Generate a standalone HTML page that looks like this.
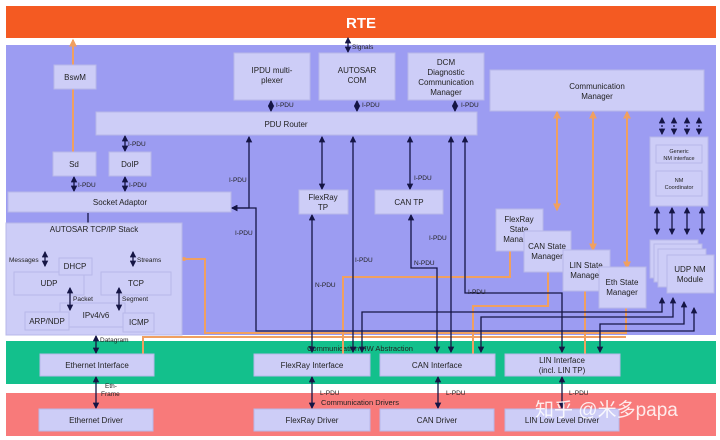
<!DOCTYPE html>
<html><head><meta charset="utf-8"><style>
body{margin:0;background:#fff;}
svg{display:block;font-family:"Liberation Sans",Arial,sans-serif;}
.b{fill:#cdcdf7;stroke:#b8b8e8;stroke-width:1;}
.t{font-size:8px;fill:#222;text-anchor:middle;}
.s{font-size:6.5px;fill:#222;}
.k{stroke:#151545;stroke-width:1.3;fill:none;}
.o{stroke:#f0a060;stroke-width:2;fill:none;}
</style></head><body>
<svg width="720" height="440" viewBox="0 0 720 440" xmlns="http://www.w3.org/2000/svg">
<defs>
<marker id="a" viewBox="0 0 6 6" refX="5" refY="3" markerWidth="5" markerHeight="5" orient="auto-start-reverse"><path d="M0,0L6,3L0,6z" fill="#151545"/></marker>
<marker id="ao" viewBox="0 0 6 6" refX="5" refY="3" markerWidth="4" markerHeight="4" orient="auto-start-reverse"><path d="M0,0L6,3L0,6z" fill="#f0a060"/></marker>
</defs>
<rect x="6" y="6" width="710" height="32" fill="#f45a22"/>
<text x="361" y="28" font-size="15" font-weight="bold" fill="#fff" text-anchor="middle">RTE</text>
<rect x="6" y="45" width="710" height="290" fill="#9c9cf2"/>
<rect x="6" y="341" width="710" height="43" fill="#13c08c"/>
<rect x="6" y="393" width="710" height="43" fill="#f87a7a"/>
<text x="360" y="351" font-size="7.5" fill="#222" text-anchor="middle">Communication HW Abstraction</text>
<text x="360" y="405" font-size="7.5" fill="#222" text-anchor="middle">Communication Drivers</text>

<!-- orange lines -->
<path class="o" d="M73,152V40" marker-end="url(#ao)"/>
<path class="o" d="M184,259H205V333H626V308"/>
<circle cx="184" cy="259" r="2" fill="#f0a060"/>
<path class="o" d="M143,354V337H626"/>
<path class="o" d="M510,251V277H343V354"/>
<path class="o" d="M548,272V306H473V354"/>
<path class="o" d="M585,291V354"/>
<path class="o" d="M557,112V210" marker-start="url(#ao)" marker-end="url(#ao)"/>
<path class="o" d="M593,112V250" marker-start="url(#ao)" marker-end="url(#ao)"/>
<path class="o" d="M627,112V268" marker-start="url(#ao)" marker-end="url(#ao)"/>

<!-- black lines -->
<path class="k" d="M348,38V52" marker-start="url(#a)" marker-end="url(#a)"/>
<text class="s" x="352" y="49">Signals</text>
<path class="k" d="M271,101V111" marker-start="url(#a)" marker-end="url(#a)"/><text class="s" x="276" y="107">I-PDU</text>
<path class="k" d="M357,101V111" marker-start="url(#a)" marker-end="url(#a)"/><text class="s" x="362" y="107">I-PDU</text>
<path class="k" d="M455,101V111" marker-start="url(#a)" marker-end="url(#a)"/><text class="s" x="461" y="107">I-PDU</text>
<path class="k" d="M125,136V151" marker-start="url(#a)" marker-end="url(#a)"/><text class="s" x="128" y="146">I-PDU</text>
<path class="k" d="M74,177V191" marker-start="url(#a)" marker-end="url(#a)"/><text class="s" x="78" y="187">I-PDU</text>
<path class="k" d="M125,177V191" marker-start="url(#a)" marker-end="url(#a)"/><text class="s" x="129" y="187">I-PDU</text>
<path class="k" d="M88,213V224"/>
<path class="k" d="M249,137V208H232" marker-start="url(#a)" marker-end="url(#a)"/><text class="s" x="229" y="182">I-PDU</text>
<path class="k" d="M232,208H256V331H694V308" marker-start="url(#a)" marker-end="url(#a)"/><text class="s" x="235" y="235">I-PDU</text>
<path class="k" d="M322,137V189" marker-start="url(#a)" marker-end="url(#a)"/>
<path class="k" d="M312,215V352" marker-start="url(#a)" marker-end="url(#a)"/><text class="s" x="315" y="287">N-PDU</text>
<path class="k" d="M353,137V352" marker-start="url(#a)" marker-end="url(#a)"/><text class="s" x="355" y="262">I-PDU</text>
<path class="k" d="M410,137V189" marker-start="url(#a)" marker-end="url(#a)"/><text class="s" x="414" y="180">I-PDU</text>
<path class="k" d="M411,215V268H437V352" marker-start="url(#a)" marker-end="url(#a)"/><text class="s" x="414" y="265">N-PDU</text>
<path class="k" d="M451,137V352" marker-start="url(#a)" marker-end="url(#a)"/><text class="s" x="429" y="240">I-PDU</text>
<path class="k" d="M465,137V293H562V352" marker-start="url(#a)" marker-end="url(#a)"/><text class="s" x="468" y="294">I-PDU</text>
<path class="k" d="M362,352V312H662V298" marker-start="url(#a)" marker-end="url(#a)"/>
<path class="k" d="M481,352V317H673V298" marker-start="url(#a)" marker-end="url(#a)"/>
<path class="k" d="M600,352V324H684V302" marker-start="url(#a)" marker-end="url(#a)"/>
<g class="k" stroke-dasharray="2,1.5">
<path d="M662,118V134" marker-start="url(#a)" marker-end="url(#a)"/><path d="M674,118V134" marker-start="url(#a)" marker-end="url(#a)"/>
<path d="M687,118V134" marker-start="url(#a)" marker-end="url(#a)"/><path d="M699,118V134" marker-start="url(#a)" marker-end="url(#a)"/>
</g>
<path class="k" d="M657,208V234" marker-start="url(#a)" marker-end="url(#a)"/><path class="k" d="M672,208V234" marker-start="url(#a)" marker-end="url(#a)"/>
<path class="k" d="M687,208V234" marker-start="url(#a)" marker-end="url(#a)"/><path class="k" d="M702,208V234" marker-start="url(#a)" marker-end="url(#a)"/>
<path class="k" d="M96,336V353" marker-start="url(#a)" marker-end="url(#a)"/><text class="s" x="100" y="342">Datagram</text>
<path class="k" d="M96,377V408" marker-start="url(#a)" marker-end="url(#a)"/><text class="s" x="105" y="388">Eth-</text><text class="s" x="101" y="396">Frame</text>
<path class="k" d="M312,377V408" marker-start="url(#a)" marker-end="url(#a)"/><text class="s" x="320" y="395">L-PDU</text>
<path class="k" d="M438,377V408" marker-start="url(#a)" marker-end="url(#a)"/><text class="s" x="446" y="395">L-PDU</text>
<path class="k" d="M562,377V408" marker-start="url(#a)" marker-end="url(#a)"/><text class="s" x="569" y="395">L-PDU</text>

<!-- boxes -->
<rect class="b" x="54" y="65" width="42" height="24"/><text class="t" x="75" y="80">BswM</text>
<rect class="b" x="234" y="53" width="76" height="47"/><text class="t" x="272" y="73">IPDU multi-</text><text class="t" x="272" y="83">plexer</text>
<rect class="b" x="319" y="53" width="76" height="47"/><text class="t" x="357" y="73">AUTOSAR</text><text class="t" x="357" y="83">COM</text>
<rect class="b" x="408" y="53" width="76" height="47"/><text class="t" x="446" y="65">DCM</text><text class="t" x="446" y="75">Diagnostic</text><text class="t" x="446" y="85">Communication</text><text class="t" x="446" y="95">Manager</text>
<rect class="b" x="490" y="70" width="214" height="41"/><text class="t" x="597" y="89">Communication</text><text class="t" x="597" y="99">Manager</text>
<rect class="b" x="96" y="112" width="381" height="23"/><text class="t" x="286" y="127">PDU Router</text>
<rect class="b" x="53" y="152" width="43" height="24"/><text class="t" x="74" y="167">Sd</text>
<rect class="b" x="109" y="152" width="42" height="24"/><text class="t" x="130" y="167">DoIP</text>
<rect class="b" x="8" y="192" width="223" height="20"/><text class="t" x="120" y="205">Socket Adaptor</text>
<rect class="b" x="299" y="190" width="49" height="24"/><text class="t" x="323" y="200">FlexRay</text><text class="t" x="323" y="210">TP</text>
<rect class="b" x="375" y="190" width="68" height="24"/><text class="t" x="409" y="205">CAN TP</text>
<rect class="b" x="650" y="137" width="58" height="69"/>
<rect class="b" x="656" y="145" width="46" height="18"/><text class="t" x="679" y="153" style="font-size:5.5px">Generic</text><text class="t" x="679" y="160" style="font-size:5.5px">NM interface</text>
<rect class="b" x="656" y="171" width="46" height="25"/><text class="t" x="679" y="182" style="font-size:5.5px">NM</text><text class="t" x="679" y="189" style="font-size:5.5px">Coordinator</text>
<rect class="b" x="6" y="223" width="176" height="112"/><text class="t" x="94" y="232">AUTOSAR TCP/IP Stack</text>
<rect class="b" x="14" y="272" width="70" height="23"/><text class="t" x="49" y="286">UDP</text>
<rect class="b" x="59" y="258" width="33" height="17"/><text class="t" x="75" y="269">DHCP</text>
<rect class="b" x="101" y="272" width="70" height="23"/><text class="t" x="136" y="286">TCP</text>
<rect class="b" x="60" y="303" width="65" height="24"/><text class="t" x="96" y="318">IPv4/v6</text>
<rect class="b" x="25" y="312" width="44" height="18"/><text class="t" x="47" y="324">ARP/NDP</text>
<rect class="b" x="123" y="313" width="31" height="19"/><text class="t" x="139" y="325">ICMP</text>
<text class="s" x="9" y="262">Messages</text><path class="k" d="M45,252V266" marker-start="url(#a)" marker-end="url(#a)"/>
<path class="k" d="M133,252V266" marker-start="url(#a)" marker-end="url(#a)"/><text class="s" x="137" y="262">Streams</text>
<path class="k" d="M70,288V310" marker-start="url(#a)" marker-end="url(#a)"/><text class="s" x="73" y="301" fill="#666">Packet</text>
<path class="k" d="M119,288V310" marker-start="url(#a)" marker-end="url(#a)"/><text class="s" x="122" y="301" fill="#666">Segment</text>
<rect class="b" x="496" y="209" width="47" height="42"/><text class="t" x="519" y="222">FlexRay</text><text class="t" x="519" y="232">State</text><text class="t" x="519" y="242">Manager</text>
<rect class="b" x="524" y="231" width="47" height="41"/><text class="t" x="547" y="249">CAN State</text><text class="t" x="547" y="259">Manager</text>
<rect class="b" x="563" y="250" width="47" height="41"/><text class="t" x="586" y="268">LIN State</text><text class="t" x="586" y="278">Manager</text>
<rect class="b" x="599" y="267" width="47" height="41"/><text class="t" x="622" y="285">Eth State</text><text class="t" x="622" y="295">Manager</text>
<rect class="b" x="650" y="240" width="48" height="38"/>
<rect class="b" x="654" y="244" width="48" height="38"/>
<rect class="b" x="658" y="249" width="48" height="38"/>
<rect class="b" x="667" y="255" width="47" height="38"/><text class="t" x="690" y="272">UDP NM</text><text class="t" x="690" y="282">Module</text>
<rect class="b" x="40" y="354" width="114" height="22"/><text class="t" x="97" y="368">Ethernet Interface</text>
<rect class="b" x="254" y="354" width="116" height="22"/><text class="t" x="312" y="368">FlexRay Interface</text>
<rect class="b" x="380" y="354" width="115" height="22"/><text class="t" x="437" y="368">CAN Interface</text>
<rect class="b" x="505" y="354" width="115" height="22"/><text class="t" x="562" y="363">LIN Interface</text><text class="t" x="562" y="373">(incl. LIN TP)</text>
<rect class="b" x="39" y="409" width="114" height="22"/><text class="t" x="96" y="423">Ethernet Driver</text>
<rect class="b" x="254" y="409" width="116" height="22"/><text class="t" x="312" y="423">FlexRay Driver</text>
<rect class="b" x="380" y="409" width="114" height="22"/><text class="t" x="437" y="423">CAN Driver</text>
<rect class="b" x="505" y="409" width="114" height="22"/><text class="t" x="562" y="423">LIN Low Level Driver</text>
<text x="535" y="416" font-size="19" fill="#ffffff" fill-opacity="0.85" style="font-family:'Liberation Sans','Noto Sans CJK SC',sans-serif">知乎 @米多papa</text>
</svg>
</body></html>
